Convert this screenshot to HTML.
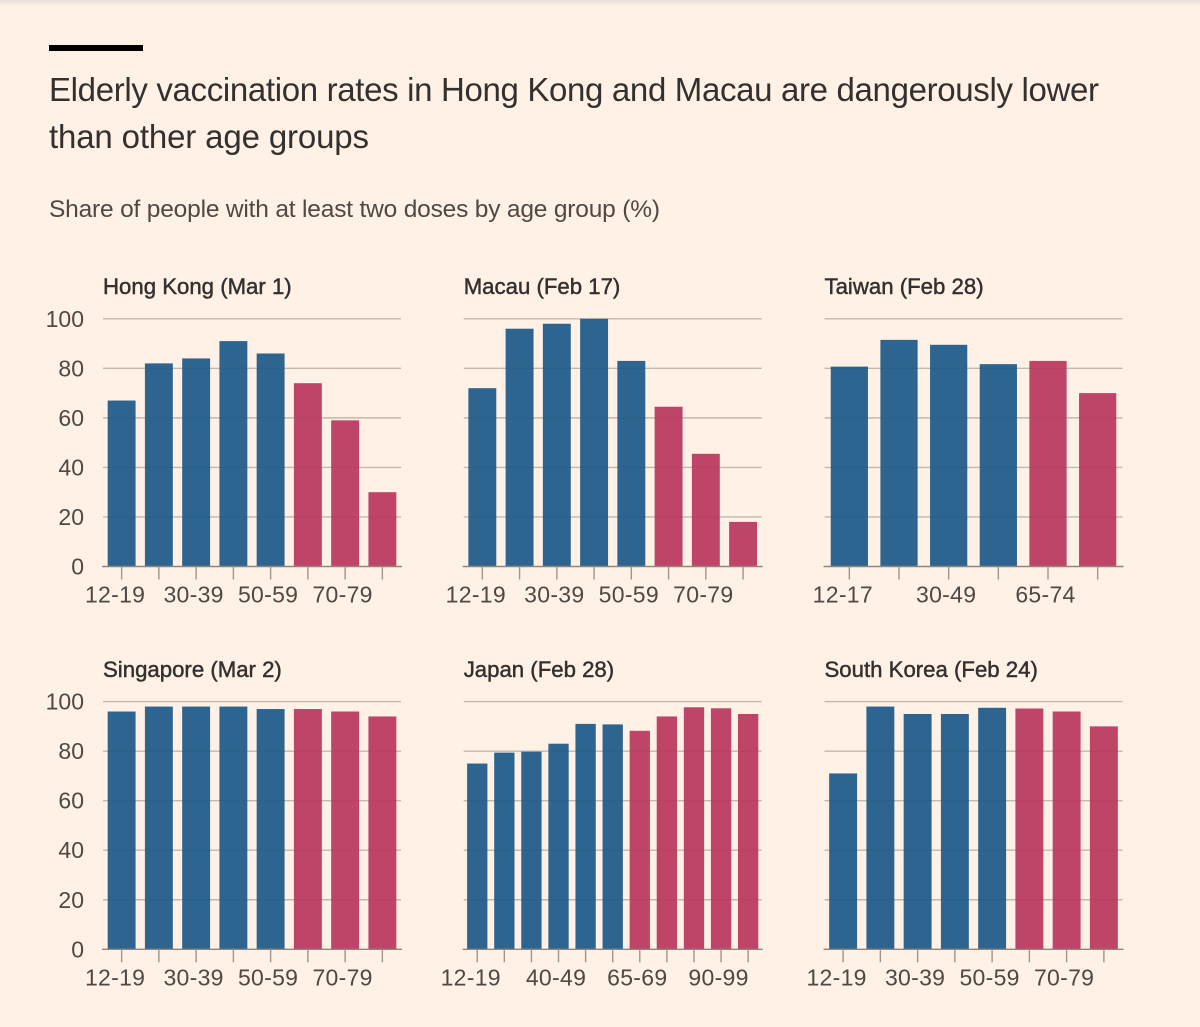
<!DOCTYPE html>
<html lang="en">
<head>
<meta charset="utf-8">
<title>Elderly vaccination rates</title>
<style>
html,body{margin:0;padding:0;background:#fff1e5;}
body{width:1200px;height:1027px;overflow:hidden;position:relative;}
svg{display:block;position:absolute;left:0;top:0;}
text{font-family:"Liberation Sans",sans-serif;}
.ytick,.xtick{font-size:23px;fill:#4f4843;}
.xtick{letter-spacing:.3px;}
.ptitle{font-size:22.2px;fill:#33302e;stroke:#33302e;stroke-width:.45px;}
</style>
</head>
<body>
<svg id="chart" width="1200" height="1027" viewBox="0 0 1200 1027" xmlns="http://www.w3.org/2000/svg">
  <defs>
    <linearGradient id="topShade" x1="0" y1="0" x2="0" y2="1">
      <stop offset="0" stop-color="#e9dfd6"/>
      <stop offset="1" stop-color="#fff1e5"/>
    </linearGradient>
  </defs>
  <rect x="0" y="0" width="1200" height="1027" fill="#fff1e5"/>
  <rect x="0" y="0" width="1200" height="6" fill="url(#topShade)"/>
  <rect x="49" y="45" width="94" height="6" fill="#000"/>
  <text x="49" y="101" font-size="33" fill="#33302e" textLength="1050" lengthAdjust="spacing">Elderly vaccination rates in Hong Kong and Macau are dangerously lower</text>
  <text x="49" y="148" font-size="33" fill="#33302e" textLength="320" lengthAdjust="spacing">than other age groups</text>
  <text x="49" y="217" font-size="24.5" fill="#4f4843" textLength="611" lengthAdjust="spacing">Share of people with at least two doses by age group (%)</text>
  <g id="panels"></g>
</svg>
<script>
// Panel titles
const panelTitles = ["Hong Kong (Mar 1)", "Macau (Feb 17)", "Taiwan (Feb 28)", "Singapore (Mar 2)", "Japan (Feb 28)", "South Korea (Feb 24)"];

// Categories
const ages8 = ["12-19", "20-29", "30-39", "40-49", "50-59", "60-69", "70-79", "80+"];
const agesTaiwan = ["12-17", "18-29", "30-49", "50-64", "65-74", "75+"];
const agesJapan = ["12-19", "20-29", "30-39", "40-49", "50-59", "60-64", "65-69", "70-79", "80-89", "90-99", "100+"];

// Series values (%)
const hongKong = [67, 82, 84, 91, 86, 74, 59, 30];
const macau = [72, 96, 98, 100, 83, 64.5, 45.5, 18];
const taiwan = [80.7, 91.5, 89.5, 81.7, 83, 70];
const singapore = [96, 98, 98, 98, 97, 97, 96, 94];
const japan = [75, 79.4, 79.8, 83, 91, 90.8, 88.2, 94, 97.7, 97.3, 95];
const southKorea = [71, 98, 95, 95, 97.5, 97.2, 96, 90];

// Number of younger (blue) groups in each panel
const youngCounts = [5, 5, 4, 5, 6, 5];
// Label every nth category
const labelEvery = [2, 2, 2, 2, 3, 2];

// Y axis ticks
const yTicks = [0, 20, 40, 60, 80, 100];

const panelCategories = [ages8, ages8, agesTaiwan, ages8, agesJapan, ages8];
const panelValues = [hongKong, macau, taiwan, singapore, japan, southKorea];

const NS = "http://www.w3.org/2000/svg";
const root = document.getElementById("panels");
const panelLefts = [103, 463.7, 824.5];
const panelWidth = 298;
const rowBaselines = [566.5, 949.3];
const plotHeight = 247.7;
const paddingRatio = 0.25;

function make(tag, attrs, parent) {
  const el = document.createElementNS(NS, tag);
  for (const k in attrs) el.setAttribute(k, attrs[k]);
  parent.appendChild(el);
  return el;
}

panelTitles.forEach(function (title, p) {
  const left = panelLefts[p % 3];
  const baseline = rowBaselines[Math.floor(p / 3)];
  const cats = panelCategories[p];
  const vals = panelValues[p];
  const step = panelWidth / cats.length;
  const barW = step * (1 - paddingRatio);
  const xBand = function (i) { return left + step * i + (step - barW) / 2; };
  const xMid = function (i) { return left + step * i + step / 2; };
  const y = function (v) { return baseline - v / 100 * plotHeight; };

  const g = make("g", {}, root);
  
  

  const t = make("text", { x: left, y: baseline - 272.5, "class": "ptitle" }, g);
  t.textContent = title;
  
  

  yTicks.forEach(function (v) {
    if (v > 0) {
      const line = make("line", { x1: left, x2: left + panelWidth, y1: y(v), y2: y(v), stroke: "#c4b7ab", "stroke-width": 1.4 }, g);
      
      
    }
    if (p % 3 === 0) {
      const lab = make("text", { x: 84, y: y(v) + 8, "text-anchor": "end", "class": "ytick" }, g);
      lab.textContent = String(v);
      
      
    }
  });

  vals.forEach(function (v, i) {
    const young = i < youngCounts[p];
    const bar = make("rect", {
      x: xBand(i), y: y(v), width: barW, height: baseline - y(v),
      fill: young ? "#1e5a8a" : "#b9385f", "fill-opacity": 0.93
    }, g);
    
    
  });

  const axis = make("line", { x1: left - 1, x2: left + panelWidth + 1, y1: baseline, y2: baseline, stroke: "#8f857c", "stroke-width": 1.4 }, g);
  
  

  cats.forEach(function (c, i) {
    const tick = make("line", { x1: xMid(i), x2: xMid(i), y1: baseline, y2: baseline + 13, stroke: "#a0958b", "stroke-width": 1.4 }, g);
    
    
    if (i % labelEvery[p] === 0) {
      const shift = i === 0 ? -6.5 : -2.5;
      const lab = make("text", { x: xMid(i) + shift, y: baseline + 36, "text-anchor": "middle", "class": "xtick" }, g);
      lab.textContent = c;
      
      
    }
  });
});
</script>
</body>
</html>
